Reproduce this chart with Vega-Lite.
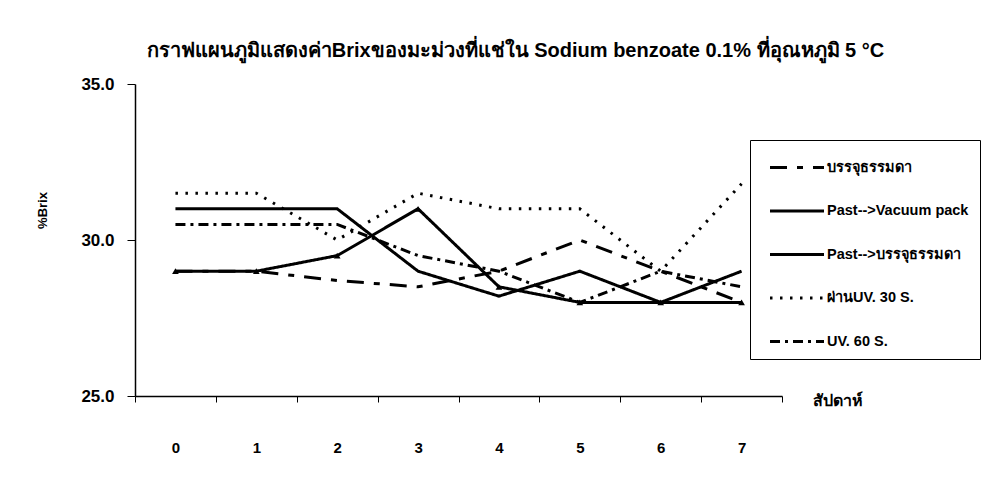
{
  "$schema": "https://vega.github.io/schema/vega-lite/v6.json",
  "autosize": {"type": "none"},
  "width": 647,
  "height": 312,
  "padding": {"left": 135, "top": 84, "right": 216, "bottom": 81},
  "background": "white",
  "config": {"view": {"stroke": null}},
  "title": {
    "text": "กราฟแผนภูมิแสดงค่าBrixของมะม่วงที่แช่ใน Sodium benzoate 0.1% ที่อุณหภูมิ 5 °C",
    "font": "Liberation Sans",
    "fontSize": 20,
    "fontWeight": "bold",
    "color": "black",
    "anchor": "middle",
    "dx": 57,
    "offset": -6,
    "baseline": "bottom"
  },
  "data": {
    "values": [
      {"week": "0", "series": "บรรจุธรรมดา", "brix": 29.0},
      {"week": "1", "series": "บรรจุธรรมดา", "brix": 29.0},
      {"week": "2", "series": "บรรจุธรรมดา", "brix": 28.7},
      {"week": "3", "series": "บรรจุธรรมดา", "brix": 28.5},
      {"week": "4", "series": "บรรจุธรรมดา", "brix": 29.0},
      {"week": "5", "series": "บรรจุธรรมดา", "brix": 30.0},
      {"week": "6", "series": "บรรจุธรรมดา", "brix": 29.0},
      {"week": "7", "series": "บรรจุธรรมดา", "brix": 28.0},
      {"week": "0", "series": "Past-->Vacuum pack", "brix": 29.0},
      {"week": "1", "series": "Past-->Vacuum pack", "brix": 29.0},
      {"week": "2", "series": "Past-->Vacuum pack", "brix": 29.5},
      {"week": "3", "series": "Past-->Vacuum pack", "brix": 31.0},
      {"week": "4", "series": "Past-->Vacuum pack", "brix": 28.5},
      {"week": "5", "series": "Past-->Vacuum pack", "brix": 28.0},
      {"week": "6", "series": "Past-->Vacuum pack", "brix": 28.0},
      {"week": "7", "series": "Past-->Vacuum pack", "brix": 28.0},
      {"week": "0", "series": "Past-->บรรจุธรรมดา", "brix": 31.0},
      {"week": "1", "series": "Past-->บรรจุธรรมดา", "brix": 31.0},
      {"week": "2", "series": "Past-->บรรจุธรรมดา", "brix": 31.0},
      {"week": "3", "series": "Past-->บรรจุธรรมดา", "brix": 29.0},
      {"week": "4", "series": "Past-->บรรจุธรรมดา", "brix": 28.2},
      {"week": "5", "series": "Past-->บรรจุธรรมดา", "brix": 29.0},
      {"week": "6", "series": "Past-->บรรจุธรรมดา", "brix": 28.0},
      {"week": "7", "series": "Past-->บรรจุธรรมดา", "brix": 29.0},
      {"week": "0", "series": "ผ่านUV. 30 S.", "brix": 31.5},
      {"week": "1", "series": "ผ่านUV. 30 S.", "brix": 31.5},
      {"week": "2", "series": "ผ่านUV. 30 S.", "brix": 30.0},
      {"week": "3", "series": "ผ่านUV. 30 S.", "brix": 31.5},
      {"week": "4", "series": "ผ่านUV. 30 S.", "brix": 31.0},
      {"week": "5", "series": "ผ่านUV. 30 S.", "brix": 31.0},
      {"week": "6", "series": "ผ่านUV. 30 S.", "brix": 29.0},
      {"week": "7", "series": "ผ่านUV. 30 S.", "brix": 31.8},
      {"week": "0", "series": "UV. 60 S.", "brix": 30.5},
      {"week": "1", "series": "UV. 60 S.", "brix": 30.5},
      {"week": "2", "series": "UV. 60 S.", "brix": 30.5},
      {"week": "3", "series": "UV. 60 S.", "brix": 29.5},
      {"week": "4", "series": "UV. 60 S.", "brix": 29.0},
      {"week": "5", "series": "UV. 60 S.", "brix": 28.0},
      {"week": "6", "series": "UV. 60 S.", "brix": 29.0},
      {"week": "7", "series": "UV. 60 S.", "brix": 28.5}
    ]
  },
  "encoding": {
    "x": {
      "field": "week",
      "type": "ordinal",
      "sort": ["0", "1", "2", "3", "4", "5", "6", "7"],
      "scale": {"type": "band", "paddingInner": 0, "paddingOuter": 0},
      "axis": {
        "title": "สัปดาห์",
        "titleFont": "Liberation Sans",
        "titleFontSize": 16,
        "titleFontWeight": "bold",
        "titleColor": "black",
        "titleAnchor": "start",
        "titleAlign": "left",
        "titleBaseline": "middle",
        "titleX": 677,
        "titleY": 4,
        "tickBand": "extent",
        "tickSize": 6,
        "tickColor": "black",
        "domainColor": "black",
        "domainWidth": 1.5,
        "labelAngle": 0,
        "labelFont": "Liberation Sans",
        "labelFontSize": 15,
        "labelFontWeight": "bold",
        "labelColor": "black",
        "labelBaseline": "middle",
        "labelPadding": 45,
        "grid": false
      }
    },
    "y": {
      "field": "brix",
      "type": "quantitative",
      "scale": {"domain": [25, 35], "nice": false, "zero": false},
      "axis": {
        "title": "%Brix",
        "titleFont": "Liberation Sans",
        "titleFontSize": 13,
        "titleFontWeight": "bold",
        "titleColor": "black",
        "titleX": -93,
        "titleY": 126,
        "titleAngle": 270,
        "titleBaseline": "middle",
        "values": [25, 30, 35],
        "format": ".1f",
        "tickSize": 8,
        "tickColor": "black",
        "domainColor": "black",
        "domainWidth": 1.5,
        "labelFont": "Liberation Sans",
        "labelFontSize": 17,
        "labelFontWeight": "bold",
        "labelColor": "black",
        "labelPadding": 13,
        "grid": false
      }
    }
  },
  "layer": [
    {
      "mark": {"type": "line", "color": "black"},
      "encoding": {
        "detail": {"field": "series"},
        "strokeDash": {
          "field": "series",
          "type": "nominal",
          "scale": {
            "domain": ["บรรจุธรรมดา", "Past-->Vacuum pack", "Past-->บรรจุธรรมดา", "ผ่านUV. 30 S.", "UV. 60 S."],
            "range": [[17, 10, 6, 10], [1, 0], [1, 0], [2.5, 7.5], [10, 5, 3, 5]]
          },
          "legend": {
            "orient": "none",
            "legendX": 615,
            "legendY": 56,
            "title": null,
            "strokeColor": "black",
            "fillColor": "white",
            "padding": 11,
            "symbolType": "M-0.5,0H3.1",
            "symbolSize": 900,
            "symbolStrokeColor": "black",
            "symbolFillColor": "transparent",
            "labelOffset": 33,
            "rowPadding": 20.5,
            "labelFont": "Liberation Sans",
            "labelFontSize": 14.5,
            "labelFontWeight": "bold",
            "labelColor": "black",
            "labelLimit": 300
          }
        },
        "strokeWidth": {
          "field": "series",
          "type": "nominal",
          "scale": {
            "domain": ["บรรจุธรรมดา", "Past-->Vacuum pack", "Past-->บรรจุธรรมดา", "ผ่านUV. 30 S.", "UV. 60 S."],
            "range": [3, 3, 1.6, 2.5, 2]
          }
        }
      }
    },
    {
      "transform": [{"filter": "datum.series === 'Past-->Vacuum pack'"}],
      "mark": {"type": "point", "shape": "triangle-up", "filled": true, "color": "black", "size": 45, "opacity": 1}
    }
  ]
}
